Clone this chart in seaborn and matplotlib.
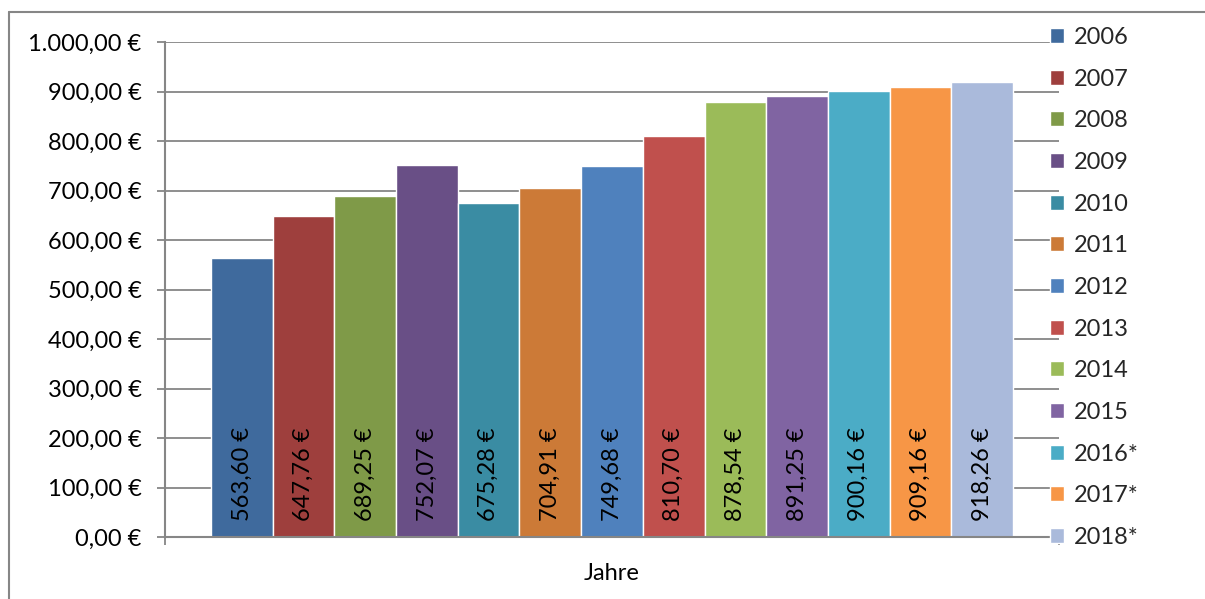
import matplotlib
matplotlib.use("Agg")
import matplotlib.pyplot as plt
import seaborn as sns
import pandas as pd
from matplotlib.lines import Line2D
from matplotlib.ticker import FuncFormatter, FixedLocator

years = ["2006", "2007", "2008", "2009", "2010", "2011", "2012",
         "2013", "2014", "2015", "2016*", "2017*", "2018*"]
values = [563.60, 647.76, 689.25, 752.07, 675.28, 704.91, 749.68,
          810.70, 878.54, 891.25, 900.16, 909.16, 918.26]
category = "Jahre"
colors = ["#3F6A9D", "#9E3F3D", "#7F9A48", "#694F86", "#3A8CA3", "#CC7A37",
          "#4F81BD", "#C0504D", "#9BBB59", "#8064A2", "#4BACC6", "#F79646", "#AABADB"]
y_ticks = [0, 100, 200, 300, 400, 500, 600, 700, 800, 900, 1000]


def euro(v):
    s = f"{v:,.2f}".replace(",", "X").replace(".", ",").replace("X", ".")
    return s + " €"


sns.set_theme(style="white")
plt.rcParams["font.family"] = ["Lato", "DejaVu Sans"]
FS = 17
grey = "#868686"

df = pd.DataFrame({"Kategorie": [category] * len(years), "Jahr": years, "Wert": values})

fig = plt.figure(figsize=(12.05, 5.99), dpi=100)
ax = fig.add_axes([165 / 1205, 1 - 537 / 599, (1059 - 165) / 1205, (537 - 42) / 599])

sns.barplot(data=df, x="Kategorie", y="Wert", hue="Jahr", palette=colors,
            width=0.897, dodge=True, ax=ax, legend=True, saturation=1,
            errorbar=None)

ax.set_xlim(-0.5, 0.5)
ax.set_ylim(0, 1000)
ax.yaxis.set_major_locator(FixedLocator(y_ticks))
ax.yaxis.set_major_formatter(FuncFormatter(lambda v, p: euro(v)))
ax.grid(axis="y", color=grey, linewidth=1.3)
ax.set_axisbelow(True)
for s in ["top", "right"]:
    ax.spines[s].set_visible(False)
for s in ["left", "bottom"]:
    ax.spines[s].set_color(grey)
    ax.spines[s].set_linewidth(1.5)
ax.tick_params(axis="y", which="major", length=5.8, width=1.3, color=grey,
               direction="out", labelsize=FS, labelcolor="black", pad=11, left=True)
ax.tick_params(axis="x", which="major", length=0, labelsize=FS, labelcolor="black", pad=19)
ax.set_xticks([-0.5, 0.5], minor=True)
ax.tick_params(axis="x", which="minor", length=5.8, width=1.3, color=grey, direction="out", bottom=True)
ax.set_xlabel("")
ax.set_ylabel("")

for cont, v in zip(ax.containers, values):
    for bar in cont:
        ax.annotate(euro(v), (bar.get_x() + bar.get_width() / 2, 0),
                    xytext=(0, 11.5), textcoords="offset points",
                    rotation=90, ha="center", va="bottom", fontsize=FS, color="black")

handles, labels = ax.get_legend_handles_labels()
ax.legend_.remove()
fig.legend(handles, labels, loc="upper left", bbox_to_anchor=(1050 / 1205, 1 - 27 / 599),
           frameon=False, fontsize=FS, handlelength=0.6, handleheight=0.6,
           handletextpad=0.4, labelspacing=0.875, borderaxespad=0, borderpad=0)

fig.add_artist(Line2D([9 / 1205, 9 / 1205], [0, 1 - 12 / 599], color=grey, lw=1.5,
                      transform=fig.transFigure))
fig.add_artist(Line2D([9 / 1205, 1], [1 - 12 / 599, 1 - 12 / 599], color=grey, lw=1.5,
                      transform=fig.transFigure))

fig.savefig("out.png", dpi=100)
